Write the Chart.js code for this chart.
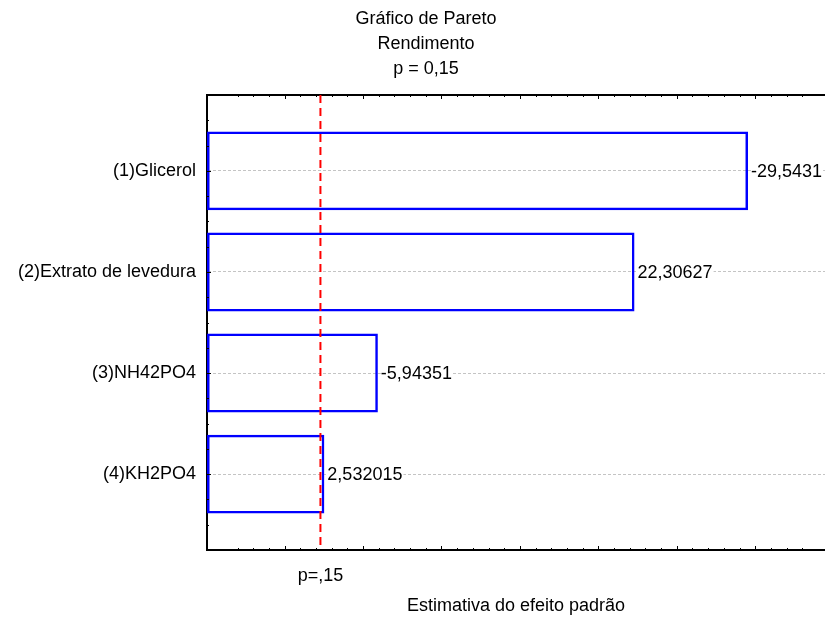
<!DOCTYPE html>
<html>
<head>
<meta charset="utf-8">
<script src="https://cdn.jsdelivr.net/npm/chart.js@4.4.1/dist/chart.umd.min.js"></script>
<style>
  html, body { margin: 0; padding: 0; background: #ffffff; overflow: hidden; }
  #c { display: block; }
</style>
</head>
<body>
<canvas id="c" width="825" height="617"></canvas>
<script>
// ---- data ----
const categories = ['(1)Glicerol', '(2)Extrato de levedura', '(3)NH42PO4', '(4)KH2PO4'];
const effects = [-29.5431, 22.30627, -5.94351, 2.532015];
const titleLines = ['Gráfico de Pareto', 'Rendimento', 'p = 0,15'];
const xAxisTitle = 'Estimativa do efeito padrão';
const pCritical = 2.282;
const pLabel = 'p=,15';
const xRange = [-4.95, 34.45];
const yRange = [-0.75, 3.75];
const xMajorStep = 5;
const yMinorStep = 0.25;

// ---- layout / style ----
const FONT = "'Liberation Sans', Arial, sans-serif";
const FSIZE = 18;
const TITLE_X = 426;
const TITLE_Y0 = 19;
const TITLE_DY = 25;

const fmt = v => String(v).replace('.', ',');

const paretoPlugin = {
  id: 'pareto',
  afterDatasetsDraw(chart) {
    const ctx = chart.ctx;
    const xs = chart.scales.x, ys = chart.scales.y;
    const a = chart.chartArea;
    ctx.save();
    // title
    ctx.fillStyle = '#000';
    ctx.font = FSIZE + 'px ' + FONT;
    ctx.textAlign = 'center';
    ctx.textBaseline = 'middle';
    titleLines.forEach((t, i) => ctx.fillText(t, TITLE_X, TITLE_Y0 + i * TITLE_DY));
    // top frame line
    ctx.strokeStyle = '#000';
    ctx.lineWidth = 2;
    ctx.beginPath();
    ctx.moveTo(a.left - 1, a.top);
    ctx.lineTo(a.right, a.top);
    ctx.stroke();
    // x ticks (inward, top and bottom)
    ctx.lineWidth = 1;
    xs.ticks.forEach(t => {
      if (!Number.isInteger(t.value)) return;
      const px = Math.round(xs.getPixelForValue(t.value)) + 0.5;
      const len = (t.value % xMajorStep === 0) ? 4 : 2;
      ctx.beginPath();
      ctx.moveTo(px, a.bottom); ctx.lineTo(px, a.bottom - len);
      ctx.moveTo(px, a.top); ctx.lineTo(px, a.top + len);
      ctx.stroke();
    });
    // y ticks (inward), minor every quarter category
    for (let v = yRange[0]; v <= yRange[1] + 1e-9; v += yMinorStep) {
      const py = Math.round(ys.getPixelForValue(v)) + 0.5;
      const len = Math.abs(v - Math.round(v)) < 1e-9 ? 4 : 2;
      ctx.beginPath();
      ctx.moveTo(a.left, py); ctx.lineTo(a.left + len, py);
      ctx.stroke();
    }
    // value labels
    ctx.font = FSIZE + 'px ' + FONT;
    ctx.textBaseline = 'middle';
    ctx.textAlign = 'left';
    effects.forEach((v, i) => {
      const px = xs.getPixelForValue(Math.abs(v)) + 3;
      const py = ys.getPixelForValue(i);
      const txt = fmt(v);
      const w = ctx.measureText(txt).width;
      ctx.fillStyle = '#fff';
      ctx.fillRect(px, py - 8, w + 1, 16);
      ctx.fillStyle = '#000';
      ctx.fillText(txt, px, py + 1);
    });
    // critical p line
    const cx = xs.getPixelForValue(pCritical);
    ctx.strokeStyle = '#ff0000';
    ctx.lineWidth = 2;
    ctx.setLineDash([8, 5]);
    ctx.beginPath();
    ctx.moveTo(cx, a.top);
    ctx.lineTo(cx, a.bottom);
    ctx.stroke();
    ctx.setLineDash([]);
    // p label below axis
    ctx.fillStyle = '#000';
    ctx.textAlign = 'center';
    ctx.fillText(pLabel, cx, a.bottom + 26);
    ctx.restore();
  }
};

new Chart(document.getElementById('c'), {
  type: 'bar',
  data: {
    datasets: [{
      data: effects.map((v, i) => ({ x: Math.abs(v), y: i })),
      base: xRange[0],
      backgroundColor: 'rgba(0,0,0,0)',
      borderColor: '#0000ff',
      borderWidth: 2.5,
      borderSkipped: false,
      categoryPercentage: 1,
      barPercentage: 0.78
    }]
  },
  options: {
    indexAxis: 'y',
    responsive: false,
    animation: false,
    devicePixelRatio: 1,
    layout: { padding: { left: 0, right: 0, top: 95, bottom: 0 } },
    plugins: {
      legend: { display: false },
      tooltip: { enabled: false },
      title: { display: false }
    },
    scales: {
      x: {
        type: 'linear',
        min: xRange[0],
        max: xRange[1],
        offset: false,
        ticks: { display: false, stepSize: 1, autoSkip: false, maxTicksLimit: 200 },
        grid: { display: false, offset: false },
        border: { display: true, color: '#000', width: 2 },
        title: {
          display: true,
          text: xAxisTitle,
          color: '#000',
          font: { family: FONT, size: FSIZE, lineHeight: 1.2 },
          padding: { top: 0, bottom: 0 }
        },
        afterFit(scale) { scale.height = 67; }
      },
      y: {
        type: 'linear',
        reverse: true,
        min: yRange[0],
        max: yRange[1],
        offset: false,
        ticks: {
          stepSize: 1,
          includeBounds: false,
          autoSkip: false,
          maxTicksLimit: 50,
          padding: 11,
          color: '#000',
          font: { family: FONT, size: FSIZE },
          callback: v => Number.isInteger(v) ? categories[v] : ''
        },
        grid: {
          display: true,
          offset: false,
          drawTicks: false,
          lineWidth: 1,
          color: '#c4c4c4'
        },
        border: { display: true, color: '#000', width: 2, dash: [3, 2] },
        afterFit(scale) { scale.width = 207; }
      }
    }
  },
  plugins: [paretoPlugin]
});
</script>
</body>
</html>
